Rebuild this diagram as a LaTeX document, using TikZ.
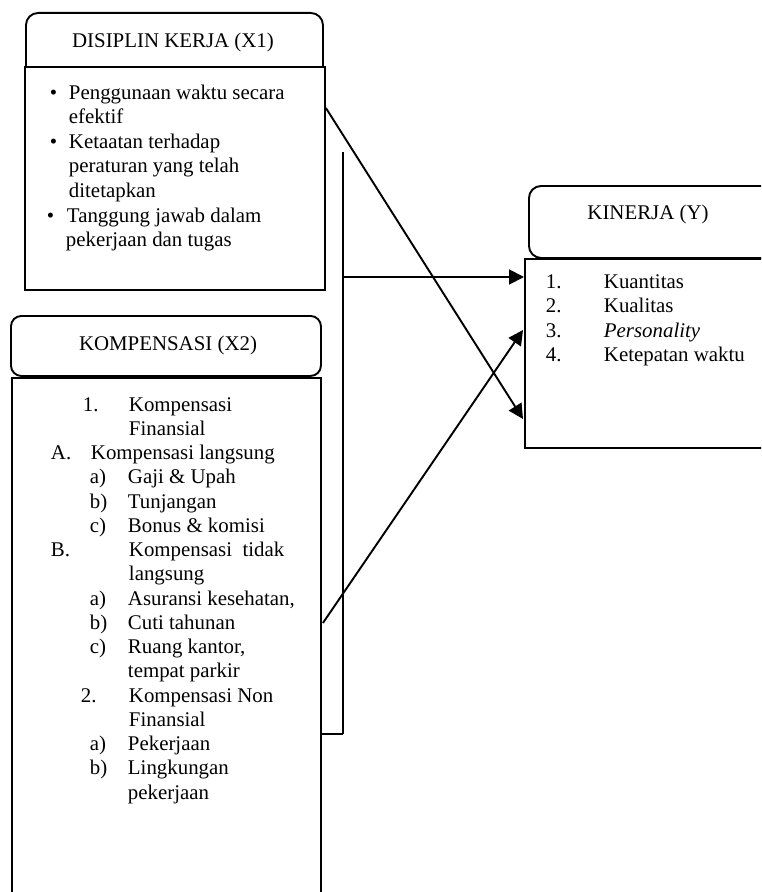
\documentclass[tikz,border=0pt]{standalone}
\usepackage{fontspec}
\setmainfont{Liberation Serif}
\usetikzlibrary{arrows.meta,calc}
\newcommand{\pxu}{0.575pt}

\begin{document}
\begin{tikzpicture}[x=0.575pt,y=-0.575pt,line width=1.1pt,
    hdr/.style={draw,rounded corners=7pt,inner sep=0pt,anchor=north west},
    bodybox/.style={draw,fill=white,inner sep=0pt,anchor=north west},
    ttl/.style={font=\fontsize{12}{14}\selectfont,inner sep=0pt,anchor=base},
    txt/.style={font=\fontsize{12}{14}\selectfont,inner sep=0pt,anchor=base west},
    link/.style={-{Triangle[length=8.5pt,width=8.5pt]}}]
    \useasboundingbox (0,0) rectangle (761,892);
    \clip (0,0) rectangle (761,892);
    % Disiplin kerja (X1)
    \node[hdr,minimum width=297*\pxu,minimum height=70*\pxu] (x1head) at (25,12) {};
    \node[bodybox,minimum width=300*\pxu,minimum height=223*\pxu] (x1body) at (24,66) {};
    \node[ttl] (x1title) at (173,48) {DISIPLIN KERJA (X1)};
    \node[txt] (b1) at (49,99) {\textbullet};
    \node[txt] (t1a) at (68,99) {Penggunaan waktu secara};
    \node[txt] (t1b) at (68,123.5) {efektif};
    \node[txt] (b2) at (49,148) {\textbullet};
    \node[txt] (t2a) at (68,148) {Ketaatan terhadap};
    \node[txt] (t2b) at (68,172.5) {peraturan yang telah};
    \node[txt] (t2c) at (68,197) {ditetapkan};
    \node[txt] (b3) at (46,222) {\textbullet};
    \node[txt] (t3a) at (66,222) {Tanggung jawab dalam};
    \node[txt] (t3b) at (65,246.5) {pekerjaan dan tugas};
    % Kompensasi (X2)
    \node[hdr,rounded corners=6pt,minimum width=310*\pxu,minimum height=60*\pxu] (x2head) at (10,315) {};
    \node[bodybox,minimum width=309*\pxu,minimum height=540*\pxu] (x2body) at (11,377) {};
    \node[ttl] (x2title) at (168,350) {KOMPENSASI (X2)};
    \node[txt] (n1) at (82,411) {1.};
    \node[txt] (k0) at (128,411) {Kompensasi};
    \node[txt] (k1) at (128,435.25) {Finansial};
    \node[txt] (nA) at (50,459.5) {A.};
    \node[txt] (k2) at (90,459.5) {Kompensasi langsung};
    \node[txt] (n3) at (89,483.75) {a)};
    \node[txt] (k3) at (127,483.75) {Gaji \& Upah};
    \node[txt] (n4) at (89,508) {b)};
    \node[txt] (k4) at (127,508) {Tunjangan};
    \node[txt] (n5) at (89,532.25) {c)};
    \node[txt] (k5) at (127,532.25) {Bonus \& komisi};
    \node[txt] (nB) at (50,556.5) {B.};
    \node[txt] (k6) at (128,556.5) {Kompensasi\ \ tidak};
    \node[txt] (k7) at (128,580.75) {langsung};
    \node[txt] (n8) at (89,605) {a)};
    \node[txt] (k8) at (127,605) {Asuransi kesehatan,};
    \node[txt] (n9) at (89,629.25) {b)};
    \node[txt] (k9) at (127,629.25) {Cuti tahunan};
    \node[txt] (n10) at (89,653.5) {c)};
    \node[txt] (k10) at (127,653.5) {Ruang kantor,};
    \node[txt] (k11) at (127,677.75) {tempat parkir};
    \node[txt] (n2) at (80,702) {2.};
    \node[txt] (k12) at (128,702) {Kompensasi Non};
    \node[txt] (k13) at (128,726.25) {Finansial};
    \node[txt] (n14) at (89,750.5) {a)};
    \node[txt] (k14) at (127,750.5) {Pekerjaan};
    \node[txt] (n15) at (89,774.75) {b)};
    \node[txt] (k15) at (127,774.75) {Lingkungan};
    \node[txt] (k16) at (127,799) {pekerjaan};
    % Kinerja (Y)
    \node[hdr,minimum width=262*\pxu,minimum height=72*\pxu] (yhead) at (528,185) {};
    \node[bodybox,minimum width=260*\pxu,minimum height=189*\pxu] (ybody) at (524,258) {};
    \node[ttl] (ytitle) at (648,219) {KINERJA (Y)};
    \node[txt] (yn1) at (545,288) {1.};
    \node[txt] (y1) at (603,288) {Kuantitas};
    \node[txt] (yn2) at (545,312.5) {2.};
    \node[txt] (y2) at (603,312.5) {Kualitas};
    \node[txt] (yn3) at (545,337) {3.};
    \node[txt] (y3) at (603,337) {\itshape Personality};
    \node[txt] (yn4) at (545,361.5) {4.};
    \node[txt] (y4) at (603,361.5) {Ketepatan waktu};
    % Bracket and arrows
    \coordinate (brtop) at (343,152);
    \coordinate (brmid) at (343,277);
    \coordinate (brbot) at (343,734);
    \draw (brtop) -- (brbot);
    \draw (x2body.east |- brbot) -- (brbot);
    \draw[link] (brmid) -- (brmid -| ybody.west);
    \draw[link] ($(x1body.north east)+(0,42)$) -- ($(ybody.north west)+(-1,161)$);
    \draw[link] ($(x2body.north east)+(1,246)$) -- ($(ybody.north west)+(-1,72)$);
\end{tikzpicture}
\end{document}
